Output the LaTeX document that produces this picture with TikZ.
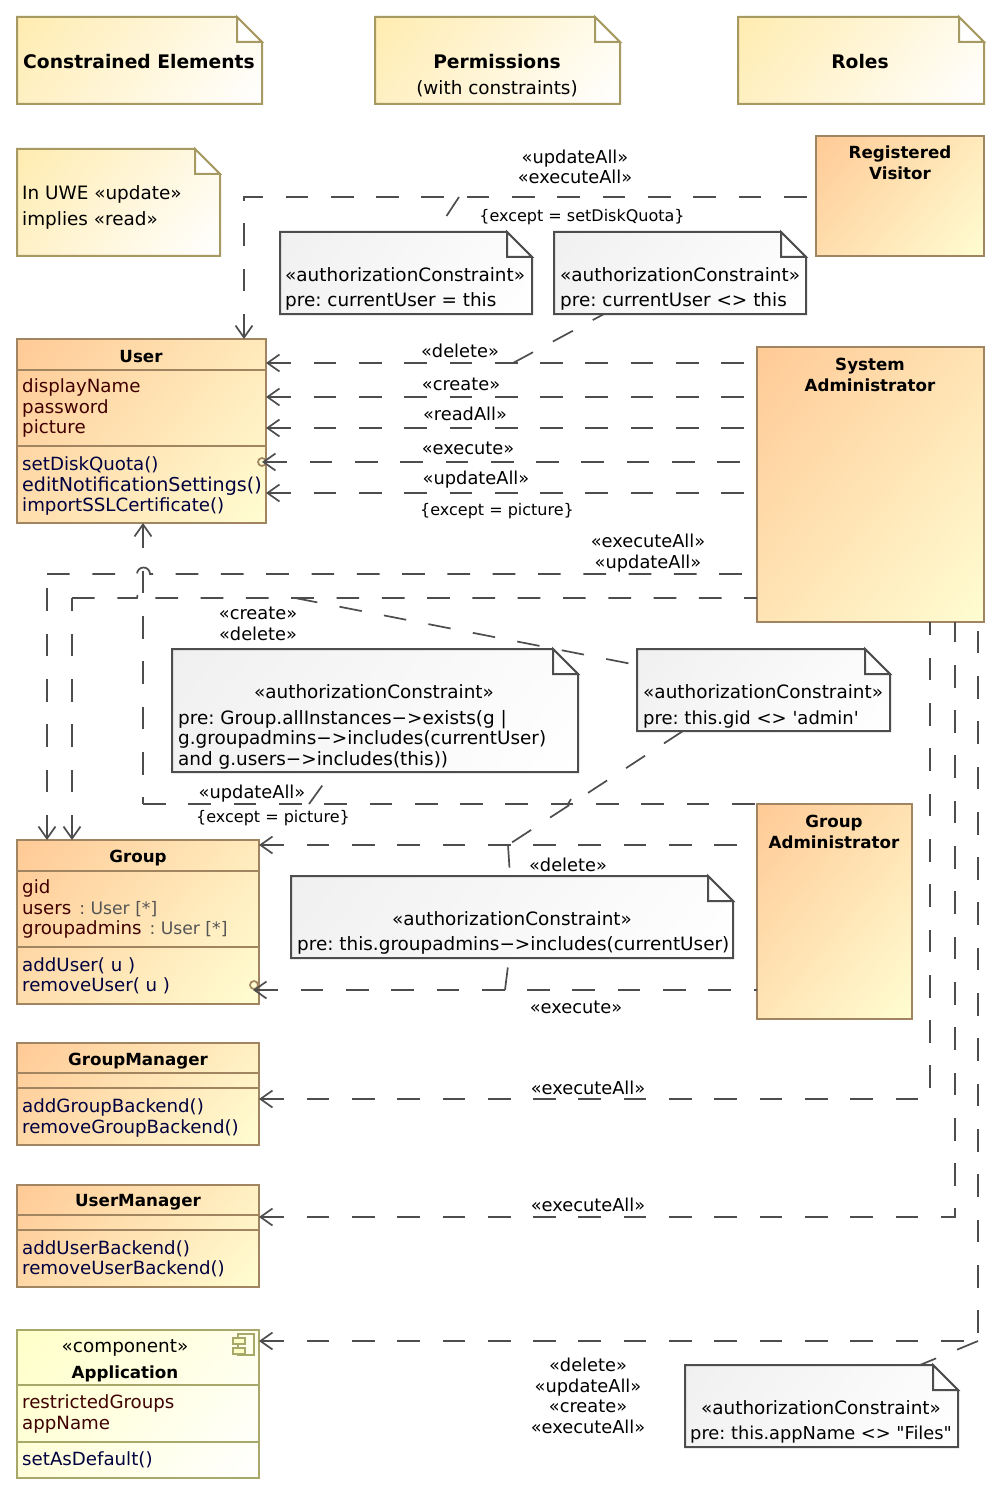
\documentclass[tikz,border=0pt]{standalone}
\usepackage{fontspec}
\setmainfont{DejaVu Sans}
\newfontfamily\qf{DejaVu Sans}
\usetikzlibrary{arrows.meta}
\definecolor{lineC}{HTML}{4D4D4D}
\definecolor{noteA}{HTML}{FFECB0}
\definecolor{noteS}{HTML}{A69A62}
\definecolor{grayA}{HTML}{F0F0F0}
\definecolor{classA}{HTML}{FFCA96}
\definecolor{classB}{HTML}{FFFDD2}
\definecolor{classS}{HTML}{A08560}
\definecolor{appA}{HTML}{FFFFC8}
\definecolor{appS}{HTML}{A8A86B}
\definecolor{attrC}{HTML}{400000}
\definecolor{opC}{HTML}{000040}
\definecolor{typeC}{HTML}{555555}
\pgfdeclareverticalshading{noteshade}{100bp}{color(0bp)=(white);color(15bp)=(white);color(85bp)=(noteA);color(100bp)=(noteA)}
\pgfdeclareverticalshading{grayshade}{100bp}{color(0bp)=(white);color(15bp)=(white);color(85bp)=(grayA);color(100bp)=(grayA)}
\pgfdeclareverticalshading{classshade}{100bp}{color(0bp)=(classB);color(15bp)=(classB);color(85bp)=(classA);color(100bp)=(classA)}
\pgfdeclareverticalshading{appshade}{100bp}{color(0bp)=(white);color(15bp)=(white);color(85bp)=(appA);color(100bp)=(appA)}
\newcommand{\fsN}{\frenchspacing\fontsize{18.4}{20.5}\selectfont}
\newcommand{\fsL}{\frenchspacing\fontsize{17.8}{20.5}\selectfont}
\newcommand{\fsS}{\frenchspacing\fontsize{16}{20.5}\selectfont}
\newcommand{\fsB}{\frenchspacing\fontsize{18.7}{20.5}\selectfont\bfseries}
\newcommand{\fsT}{\frenchspacing\fontsize{16.7}{20.5}\selectfont\bfseries}
\newcommand{\fsC}{\frenchspacing\fontsize{18.2}{20.5}\selectfont}
\newcommand{\typeT}[1]{\hspace{2.5pt}\textcolor{typeC}{\fontsize{17.2}{20.5}\selectfont #1}}
\tikzset{
  x=1pt,y=-1pt,
  txtc/.style={font=\fsN,inner sep=0pt,align=center,anchor=center,text=black},
  txtl/.style={font=\fsN,inner sep=0pt,align=left,anchor=west,text=black},
  labl/.style={font=\fsL,inner sep=0pt,align=center,anchor=center,text=black},
  txts/.style={font=\fsS,inner sep=0pt,align=center,anchor=center,text=black},
  txtb/.style={font=\fsB,inner sep=0pt,align=center,anchor=center,text=black},
  txtt/.style={font=\fsT,inner sep=0pt,align=center,anchor=center,text=black},
  attrs/.style={txtl,font=\fsC,text=attrC},
  opers/.style={txtl,font=\fsC,text=opC},
  yellownote/.style={draw=noteS,line width=2pt,shade,shading=noteshade,shading angle=50},
  yellownotefold/.style={draw=noteS,line width=2pt,fill=white},
  graynote/.style={draw=lineC,line width=2pt,shade,shading=grayshade,shading angle=50},
  graynotefold/.style={draw=lineC,line width=2pt,fill=white},
  classbox/.style={draw=classS,line width=2pt,shade,shading=classshade,shading angle=50},
  appbox/.style={draw=appS,line width=2pt,shade,shading=appshade,shading angle=50},
  sep/.style={line width=1.8pt},
  conn/.style={draw=lineC,line width=1.7pt,dash pattern=on 22.7pt off 22.6pt},
  arr/.style={conn,{Straight Barb[length=12pt,width=17pt,line width=1.7pt]}-},
  anc/.style={conn},
  vis/.style={circle,draw=classS,line width=1.7pt,fill=classB,minimum size=8pt,inner sep=0pt,outer sep=0pt},
}
% #1 name, #2 x1, #3 y1, #4 x2, #5 y2, #6 style
\newcommand{\boxN}[6]{%
  \node[#6,rectangle,inner sep=0pt,outer sep=0pt,minimum width={(#4-#2)*1pt},minimum height={(#5-#3)*1pt}] (#1) at ({(#2+#4)/2},{(#3+#5)/2}) {};}
\newcommand{\noteN}[6]{%
  \path[#6,line join=miter] (#2,#3) -- ({#4-25},#3) -- (#4,{#3+25}) -- (#4,#5) -- (#2,#5) -- cycle;
  \path[#6fold,line join=miter] ({#4-25},#3) -- ({#4-25},{#3+25}) -- (#4,{#3+25}) -- cycle;
  \node[inner sep=0pt,outer sep=0pt,minimum width={(#4-#2)*1pt},minimum height={(#5-#3)*1pt}] (#1) at ({(#2+#4)/2},{(#3+#5)/2}) {};}
\begin{document}
\begin{tikzpicture}
\useasboundingbox (0,0) rectangle (1000,1495);
% header notes
\noteN{nCE}{17}{17}{262}{104}{yellownote}
\node[txtb] (tCE) at (139,62) {Constrained Elements};
\noteN{nPM}{375}{17}{620}{104}{yellownote}
\node[txtb] (tPM) at (497,62) {Permissions};
\node[txtc] (tPMb) at (497,88.5) {(with constraints)};
\noteN{nRL}{738}{17}{984}{104}{yellownote}
\node[txtb] (tRL) at (860,62) {Roles};
\noteN{nUWE}{17}{149}{220}{256}{yellownote}
\node[txtl] (tUWE) at (22,207.5) {In UWE «update»\\[5pt]implies «read»};
% roles
\boxN{rv}{816}{136}{984}{256}{classbox}
\node[txtt] (trv) at (900,163) {Registered\\Visitor};
\boxN{sa}{757}{347}{984}{622}{classbox}
\node[txtt] (tsa) at (870,375) {System\\Administrator};
\boxN{ga}{757}{804}{912}{1019}{classbox}
\node[txtt] (tga) at (834,832) {Group\\Administrator};
% constraint notes
\noteN{c1}{280}{232}{532}{314}{graynote}
\node[txtl] (tc1) at (285,289) {«authorizationConstraint»\\[5pt]pre: currentUser = this};
\noteN{c2}{554}{232}{806}{314}{graynote}
\node[txtl] (tc2) at (560,289) {«authorizationConstraint»\\[5pt]pre: currentUser <> this};
\noteN{c3}{172}{649}{578}{772}{graynote}
\node[txtc] (tc3a) at (374,692) {«authorizationConstraint»};
\node[txtl] (tc3b) at (178,739.5) {pre: Group.allInstances−>exists(g |\\g.groupadmins−>includes(currentUser)\\and g.users−>includes(this))};
\noteN{c4}{637}{649}{890}{731}{graynote}
\node[txtl] (tc4) at (643,706.5) {«authorizationConstraint»\\[5pt]{\qf\fontsize{18}{20.5}\selectfont pre: this.gid <> 'admin'}};
\noteN{c5}{291}{876}{733}{958}{graynote}
\node[txtc] (tc5a) at (512,919) {«authorizationConstraint»};
\node[txtl] (tc5b) at (297,945) {pre: this.groupadmins−>includes(currentUser)};
\noteN{c6}{685}{1365}{958}{1447}{graynote}
\node[txtc] (tc6) at (821,1422) {«authorizationConstraint»\\[5pt]{\qf\fontsize{17.8}{20.5}\selectfont pre: this.appName <> "Files"}};
% classes
\boxN{user}{17}{339}{266}{523}{classbox}
\draw[draw=classS,sep] (user.west |- 0,370) -- (user.east |- 0,370);
\draw[draw=classS,sep] (user.west |- 0,446) -- (user.east |- 0,446);
\node[txtt] (tuser) at (141,356.5) {User};
\node[attrs] (auser) at (22,408) {displayName\\password\\picture};
\node[opers] (ouser) at (22,486) {setDiskQuota()\\{\fontsize{19.1}{20.5}\selectfont editNotificationSettings()}\\importSSLCertificate()};
\boxN{group}{17}{840}{259}{1004}{classbox}
\draw[draw=classS,sep] (group.west |- 0,871) -- (group.east |- 0,871);
\draw[draw=classS,sep] (group.west |- 0,947) -- (group.east |- 0,947);
\node[txtt] (tgroup) at (138,858.5) {Group};
\node[attrs] (agroup) at (22,909) {gid\\users\typeT{~: User [*]}\\groupadmins\typeT{~: User [*]}};
\node[opers] (ogroup) at (22,976) {addUser( u )\\removeUser( u )};
\boxN{gm}{17}{1043}{259}{1145}{classbox}
\draw[draw=classS,sep] (gm.west |- 0,1073) -- (gm.east |- 0,1073);
\draw[draw=classS,sep] (gm.west |- 0,1088) -- (gm.east |- 0,1088);
\node[txtt] (tgm) at (138,1061) {GroupManager};
\node[opers] (ogm) at (22,1118) {addGroupBackend()\\removeGroupBackend()};
\boxN{um}{17}{1185}{259}{1287}{classbox}
\draw[draw=classS,sep] (um.west |- 0,1215) -- (um.east |- 0,1215);
\draw[draw=classS,sep] (um.west |- 0,1230) -- (um.east |- 0,1230);
\node[txtt] (tum) at (138,1202) {UserManager};
\node[opers] (oum) at (22,1259) {addUserBackend()\\removeUserBackend()};
\boxN{app}{17}{1330}{259}{1478}{appbox}
\draw[draw=appS,sep] (app.west |- 0,1385) -- (app.east |- 0,1385);
\draw[draw=appS,sep] (app.west |- 0,1442) -- (app.east |- 0,1442);
\node[txtc] (tappa) at (125,1348) {«component»};
\node[txtt] (tappb) at (125,1373.5) {Application};
\node[attrs] (aapp) at (22,1414) {restrictedGroups\\appName};
\node[opers] (oapp) at (22,1460) {setAsDefault()};
% component icon
\draw[draw=appS,line width=2pt] (238,1334) rectangle (254,1355);
\draw[draw=appS,line width=2pt,fill=appA] (233,1338) rectangle (245,1344);
\draw[draw=appS,line width=2pt,fill=appA] (233,1348) rectangle (245,1354);
% visibility markers
\node[vis] (vis1) at (262,462) {};
\node[vis] (vis2) at (254,985) {};
\coordinate (vis2tip) at (253,990);
% junction points on dashed lines
\coordinate (j1) at (459,197);
\coordinate (j2) at (513,363);
\coordinate (j3) at (295,598);
\coordinate (j4) at (309,804);
\coordinate (j5) at (508,845);
\coordinate (j6) at (505,990);
\coordinate (j7) at (978,1341);
\coordinate (j8) at (568,804);
\coordinate (k1) at (143,804);
\coordinate (k2) at (47,574);
\coordinate (k3) at (72,598);
% connectors
\draw[arr] (244,0 |- user.north) -- (244,197) -- (rv.west |- 0,197);
\draw[arr] (user.east |- 0,363) -- (sa.west |- 0,363);
\draw[arr] (user.east |- 0,397) -- (sa.west |- 0,397);
\draw[arr] (user.east |- 0,428) -- (sa.west |- 0,428);
\draw[arr] (vis1.center) -- (sa.west |- 0,462);
\draw[arr] (user.east |- 0,493) -- (sa.west |- 0,493);
\draw[arr] (k1 |- user.south) -- (k1);
\draw[conn] (k1) -- (ga.west |- k1);
\draw[arr] (k2 |- group.north) -- (k2);
\draw[conn] (k2) -- (137,574) arc[start angle=180,end angle=0,radius=6.5pt] -- (sa.west |- k2);
\draw[arr] (k3 |- group.north) -- (k3);
\draw[conn] (k3) -- (137,598) arc[start angle=180,end angle=0,radius=6.5pt] -- (sa.west |- k3);
\draw[arr] (group.east |- 0,845) -- (ga.west |- 0,845);
\draw[arr] (vis2tip) -- (ga.west |- 0,990);
\draw[arr] (gm.east |- 0,1099) -- (930,1099) -- (930,0 |- sa.south);
\draw[arr] (um.east |- 0,1217) -- (955,1217) -- (955,0 |- sa.south);
\draw[arr] (app.east |- 0,1341) -- (j7) -- (j7 |- sa.south);
% constraint anchors
\draw[anc] (j1) -- (436,0 |- c1.north);
\draw[anc] (j2) -- (604,0 |- c2.south);
\draw[anc] (j3) -- (c4.west |- 0,665);
\draw[anc] (j4) -- (332,0 |- c3.south);
\draw[anc] (c4.south -| 683,0) -- (j5);
\draw[anc] (j5) -- (510,0 |- c5.north);
\draw[anc] (j6) -- (509,0 |- c5.south);
\draw[anc] (j7) -- (920,0 |- c6.north);
\draw[draw=lineC,line width=1.7pt] (j8) -- (571,799);
% labels
\node[labl] (l1) at (575,167) {«updateAll»\\«executeAll»};
\node[txts] (l2) at (582,217) {\{except = setDiskQuota\}};
\node[labl] (l3) at (460,351) {«delete»};
\node[labl] (l4) at (461,384) {«create»};
\node[labl] (l5) at (465,414) {«readAll»};
\node[labl] (l6) at (468,448) {«execute»};
\node[labl] (l7) at (476,480) {«updateAll»};
\node[txts] (l8) at (497,511) {\{except = picture\}};
\node[labl] (l9) at (648,553) {«executeAll»\\«updateAll»};
\node[labl] (l10) at (258,624) {«create»\\«delete»};
\node[labl] (l11) at (252,793.5) {«updateAll»};
\node[txts] (l12) at (273,818) {\{except = picture\}};
\node[labl] (l13) at (568,865) {«delete»};
\node[labl] (l14) at (576,1007) {«execute»};
\node[labl] (l15) at (588,1088) {«executeAll»};
\node[labl] (l16) at (588,1205) {«executeAll»};
\node[labl] (l17) at (588,1396) {«delete»\\«updateAll»\\«create»\\«executeAll»};
\end{tikzpicture}
\end{document}
